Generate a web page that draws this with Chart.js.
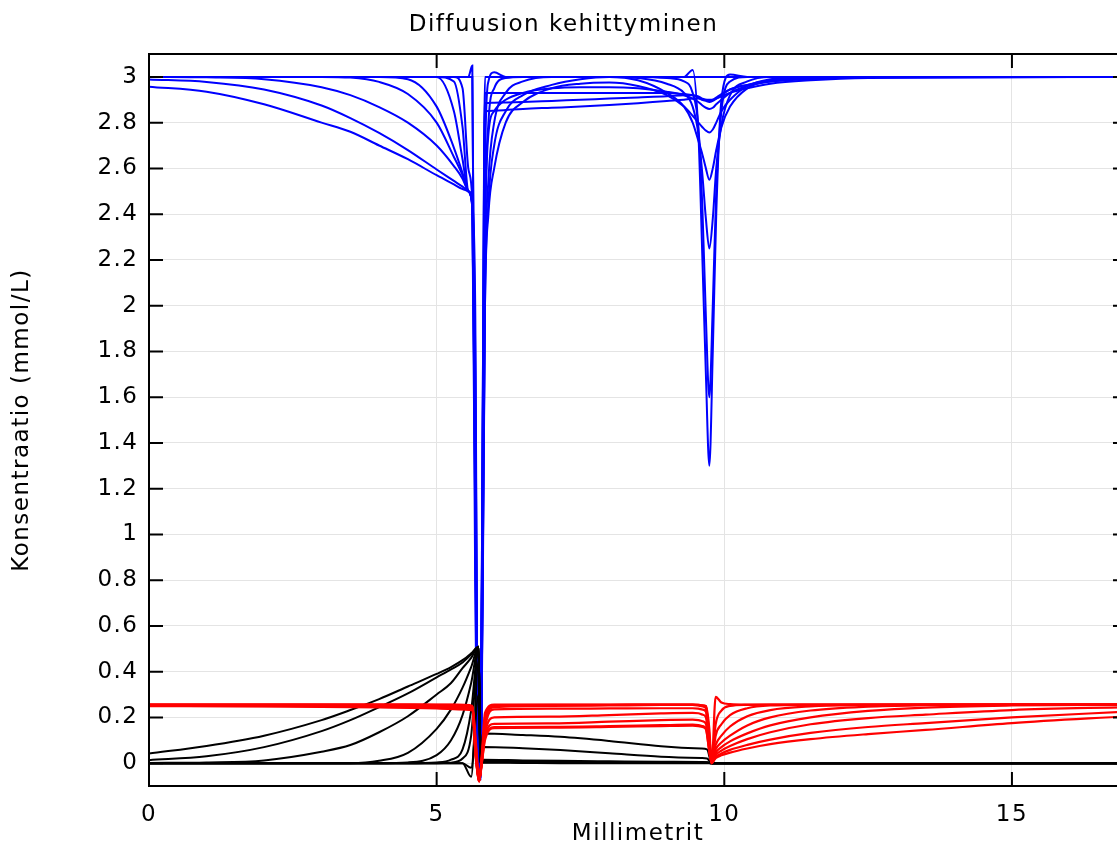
<!DOCTYPE html>
<html>
<head>
<meta charset="utf-8">
<script src="https://cdn.jsdelivr.net/npm/chart.js@4"></script>
<style>
  html, body { margin: 0; padding: 0; overflow: hidden; background: #fff; }
  #wrap { width: 1117px; height: 848px; overflow: hidden; }
</style>
</head>
<body>
<div id="wrap"><canvas id="chart" width="1135" height="848"></canvas></div>
<script>
// axis ticks
var xTicks = [0, 5, 10, 15];
var yTicks = [0, 0.2, 0.4, 0.6, 0.8, 1, 1.2, 1.4, 1.6, 1.8, 2, 2.2, 2.4, 2.6, 2.8, 3];
var yTickLabels = ['0', '0.2', '0.4', '0.6', '0.8', '1', '1.2', '1.4', '1.6', '1.8', '2', '2.2', '2.4', '2.6', '2.8', '3'];

// blue species, left domain + membrane drop
var blueXA = [0, 1, 2, 3, 3.5, 4, 4.5, 5, 5.3, 5.45, 5.55, 5.62, 5.67, 5.72];
var blueA = [
    [3, 3, 3, 3, 3, 3, 3, 3, 3, 3, 3, 3.0, 1.2, -0.05],
    [3, 3, 3, 3, 3, 3, 3, 3, 3, 3, 3.0, 3.05, 1.0, -0.06],
    [3, 3, 3, 3, 3, 3, 3, 3, 3.0, 2.95, 2.6, 2.46, 1.7, -0.05],
    [3, 3, 3, 3, 3, 3, 3, 3, 2.98, 2.78, 2.5, 2.46, 1.4, -0.06],
    [3, 3, 3, 3, 3, 3, 3, 3.0, 2.85, 2.64, 2.5, 2.45, 1.1, -0.06],
    [3, 3, 3, 3, 3, 3.0, 2.99, 2.87, 2.69, 2.58, 2.5, 2.45, 0.8, -0.07],
    [3, 3, 3, 3, 2.997, 2.978, 2.925, 2.80, 2.65, 2.57, 2.5, 2.44, 2.0, -0.06],
    [3.0, 2.998, 2.99, 2.955, 2.92, 2.868, 2.80, 2.70, 2.61, 2.555, 2.5, 2.44, 1.8, -0.05],
    [2.989, 2.978, 2.945, 2.875, 2.82, 2.755, 2.68, 2.595, 2.545, 2.52, 2.5, 2.43, 1.5, -0.06],
    [2.957, 2.935, 2.88, 2.80, 2.76, 2.70, 2.64, 2.57, 2.53, 2.51, 2.5, 2.43, 1.2, -0.07]
];
// blue species, middle + right domain
var blueXB = [5.76, 5.80, 5.84, 5.9, 6.0, 6.2, 6.5, 7.0, 7.5, 8.0, 8.5, 9.0, 9.3, 9.45, 9.55, 9.62, 9.68, 9.74, 9.8, 9.86, 9.95, 10.1, 10.4, 10.8, 11.5, 12.5, 17];
var blueB = [
    [-0.05, 1.5, 3, 3, 3, 3, 3, 3, 3, 3, 3, 3, 3, 3, 3, 3, 3, 3, 3, 3, 3, 3, 3, 3, 3, 3, 3],
    [-0.06, 1.0, 2.6, 2.98, 3.02, 3.0, 3.0, 3.0, 3.0, 3.0, 3.0, 3.0, 3.0, 3.03, 2.75, 2.2, 1.7, 1.3, 1.8, 2.4, 2.9, 3.01, 3.0, 3.0, 3.0, 3.0, 3.0],
    [-0.05, 0.9, 2.3, 2.8, 2.95, 2.995, 3.0, 3.0, 3.0, 3.0, 3.0, 2.995, 2.98, 2.93, 2.78, 2.42, 1.95, 1.6, 2.0, 2.5, 2.85, 2.98, 3.0, 3.0, 3.0, 3.0, 3.0],
    [-0.06, 0.8, 2.1, 2.55, 2.8, 2.93, 2.98, 3.0, 3.0, 3.0, 2.995, 2.97, 2.93, 2.87, 2.75, 2.57, 2.38, 2.25, 2.38, 2.6, 2.79, 2.92, 2.98, 3.0, 3.0, 3.0, 3.0],
    [-0.06, 0.7, 2.0, 2.45, 2.7, 2.85, 2.92, 2.965, 2.99, 3.0, 2.985, 2.93, 2.87, 2.8, 2.72, 2.66, 2.6, 2.55, 2.6, 2.68, 2.78, 2.87, 2.95, 2.985, 3.0, 3.0, 3.0],
    [-0.07, 0.8, 2.0, 2.4, 2.6, 2.8, 2.89, 2.95, 2.97, 2.975, 2.96, 2.92, 2.87, 2.83, 2.8, 2.78, 2.765, 2.757, 2.77, 2.8, 2.85, 2.9, 2.96, 2.99, 3.0, 3.0, 3.0],
    [-0.06, 1.2, 2.3, 2.75, 2.85, 2.9, 2.93, 2.95, 2.955, 2.955, 2.95, 2.935, 2.92, 2.905, 2.89, 2.875, 2.865, 2.86, 2.865, 2.88, 2.9, 2.93, 2.96, 2.98, 2.995, 3.0, 3.0],
    [-0.05, 1.5, 2.93, 2.93, 2.93, 2.93, 2.93, 2.93, 2.93, 2.93, 2.93, 2.93, 2.925, 2.92, 2.91, 2.9, 2.895, 2.89, 2.895, 2.905, 2.92, 2.945, 2.965, 2.985, 2.995, 3.0, 3.0],
    [-0.06, 1.4, 2.886, 2.886, 2.887, 2.888, 2.89, 2.895, 2.9, 2.905, 2.91, 2.915, 2.92, 2.92, 2.915, 2.905, 2.9, 2.895, 2.9, 2.91, 2.925, 2.945, 2.965, 2.98, 2.99, 2.998, 3.0],
    [-0.07, 1.3, 2.85, 2.851, 2.852, 2.855, 2.86, 2.865, 2.87, 2.877, 2.885, 2.895, 2.9, 2.905, 2.905, 2.9, 2.9, 2.9, 2.9, 2.905, 2.915, 2.93, 2.95, 2.97, 2.985, 2.995, 3.0]
];

// red species
var redXA = [0, 2, 4, 5, 5.5, 5.62, 5.68, 5.74, 5.79];
var redA = [
    [0.256, 0.256, 0.256, 0.256, 0.255, 0.25, 0.1, -0.07, 0.05],
    [0.256, 0.256, 0.256, 0.255, 0.254, 0.248, 0.08, -0.08, 0.04],
    [0.255, 0.255, 0.255, 0.254, 0.252, 0.246, 0.06, -0.07, 0.03],
    [0.255, 0.255, 0.254, 0.252, 0.25, 0.244, 0.05, -0.08, 0.03],
    [0.254, 0.254, 0.252, 0.25, 0.247, 0.242, 0.04, -0.07, 0.02],
    [0.254, 0.253, 0.25, 0.247, 0.244, 0.24, 0.04, -0.08, 0.02],
    [0.252, 0.251, 0.248, 0.244, 0.24, 0.236, 0.03, -0.07, 0.02],
    [0.25, 0.249, 0.246, 0.241, 0.237, 0.233, 0.03, -0.08, 0.01],
    [0.249, 0.248, 0.244, 0.239, 0.234, 0.23, 0.02, -0.07, 0.01]
];
var redXB = [5.84, 6.0, 7.0, 8.0, 8.9, 9.45, 9.55, 9.62, 9.68, 9.74, 9.78];
var redB = [
    [0.22, 0.256, 0.256, 0.256, 0.256, 0.256, 0.255, 0.253, 0.25, 0.15, 0.0],
    [0.2, 0.254, 0.255, 0.255, 0.256, 0.256, 0.255, 0.252, 0.248, 0.12, 0.0],
    [0.18, 0.25, 0.253, 0.254, 0.255, 0.255, 0.253, 0.25, 0.245, 0.1, 0.0],
    [0.17, 0.245, 0.25, 0.252, 0.254, 0.254, 0.252, 0.248, 0.24, 0.08, 0.0],
    [0.15, 0.235, 0.238, 0.239, 0.24, 0.24, 0.238, 0.234, 0.225, 0.08, 0.0],
    [0.13, 0.2, 0.203, 0.21, 0.2175, 0.22, 0.218, 0.212, 0.2, 0.07, 0.0],
    [0.12, 0.172, 0.174, 0.181, 0.188, 0.19, 0.188, 0.183, 0.172, 0.06, 0.0],
    [0.11, 0.157, 0.159, 0.162, 0.166, 0.168, 0.166, 0.162, 0.152, 0.05, 0.0],
    [0.1, 0.153, 0.155, 0.158, 0.162, 0.164, 0.162, 0.158, 0.148, 0.05, 0.0]
];
var redXC = [9.85, 9.95, 10.1, 10.4, 10.8, 11.5, 12.5, 13.5, 15, 17];
var redC = [
    [0.29, 0.265, 0.258, 0.256, 0.256, 0.256, 0.256, 0.256, 0.256, 0.256],
    [0.17, 0.23, 0.25, 0.255, 0.256, 0.256, 0.256, 0.256, 0.256, 0.256],
    [0.12, 0.17, 0.21, 0.24, 0.252, 0.255, 0.256, 0.256, 0.256, 0.256],
    [0.08, 0.12, 0.16, 0.205, 0.232, 0.248, 0.254, 0.256, 0.256, 0.256],
    [0.06, 0.09, 0.12, 0.165, 0.2, 0.23, 0.247, 0.253, 0.256, 0.256],
    [0.045, 0.07, 0.095, 0.13, 0.165, 0.2, 0.228, 0.243, 0.252, 0.256],
    [0.035, 0.055, 0.075, 0.105, 0.135, 0.17, 0.197, 0.212, 0.232, 0.245],
    [0.027, 0.042, 0.058, 0.08, 0.103, 0.132, 0.158, 0.175, 0.2, 0.225],
    [0.022, 0.034, 0.046, 0.064, 0.083, 0.105, 0.127, 0.145, 0.175, 0.205]
];

// black species
var blackXA = [0, 1, 2, 3, 3.5, 4, 4.5, 5, 5.25, 5.45, 5.6, 5.73, 5.76];
var blackA = [
    [0, 0, 0, 0, 0, 0, 0, 0, 0, 0, -0.02, 0.3, 0.0],
    [0, 0, 0, 0, 0, 0, 0, 0, 0, 0.0, -0.06, 0.45, 0.0],
    [0, 0, 0, 0, 0, 0, 0, 0, 0.002, 0.02, 0.12, 0.509, 0.0],
    [0, 0, 0, 0, 0, 0, 0, 0.003, 0.015, 0.06, 0.23, 0.509, 0.0],
    [0, 0, 0, 0, 0, 0, 0.003, 0.035, 0.1, 0.21, 0.35, 0.509, 0.0],
    [0, 0, 0, 0, 0, 0.01, 0.045, 0.15, 0.235, 0.33, 0.42, 0.509, 0.0],
    [0.001, 0.003, 0.012, 0.05, 0.079, 0.135, 0.205, 0.3, 0.35, 0.415, 0.46, 0.509, 0.0],
    [0.013, 0.03, 0.07, 0.14, 0.188, 0.245, 0.305, 0.375, 0.41, 0.44, 0.475, 0.509, 0.0],
    [0.042, 0.075, 0.12, 0.188, 0.232, 0.28, 0.335, 0.39, 0.42, 0.45, 0.48, 0.509, 0.0]
];
var blackXB = [5.8, 6.5, 7.15, 8, 8.9, 9.6, 9.7, 9.78, 12.5, 17];
var blackB = [
    [0.002, 0.001, 0, 0, 0, 0, 0, 0, 0, 0],
    [0.004, 0.003, 0.003, 0.002, 0.002, 0.001, 0.001, 0, 0, 0],
    [0.005, 0.004, 0.003, 0.003, 0.002, 0.002, 0.002, 0, 0, 0],
    [0.005, 0.004, 0.003, 0.003, 0.002, 0.002, 0.002, 0, 0, 0],
    [0.006, 0.005, 0.004, 0.003, 0.003, 0.002, 0.002, 0, 0, 0],
    [0.008, 0.007, 0.006, 0.005, 0.004, 0.003, 0.003, 0, 0, 0],
    [0.015, 0.012, 0.01, 0.008, 0.006, 0.005, 0.004, 0, 0, 0],
    [0.071, 0.065, 0.057, 0.043, 0.028, 0.022, 0.02, 0, 0, 0],
    [0.13, 0.123, 0.115, 0.097, 0.074, 0.064, 0.06, 0, 0, 0]
];

var FONT = 'DejaVu Sans';
var FONT_SIZE = 23;
var LETTER_SPACING = '1.5px';

function toPoints(xs, ys) {
    return xs.map(function (x, i) { return { x: x, y: ys[i] }; });
}

function curve(points, color, width, order) {
    return {
        data: points,
        showLine: true,
        borderColor: color,
        backgroundColor: color,
        borderWidth: width,
        pointRadius: 0,
        cubicInterpolationMode: 'monotone',
        fill: false,
        order: order
    };
}

var datasets = [];
redA.forEach(function (ys, i) {
    var xs = redXA.concat(redXB, redXC);
    datasets.push(curve(toPoints(xs, ys.concat(redB[i], redC[i])), '#ff0000', 2.2, 1));
});
blackA.forEach(function (ys, i) {
    var xs = blackXA.concat(blackXB);
    datasets.push(curve(toPoints(xs, ys.concat(blackB[i])), '#000000', 2, 2));
});
blueA.forEach(function (ys, i) {
    var xs = blueXA.concat(blueXB);
    datasets.push(curve(toPoints(xs, ys.concat(blueB[i])), '#0000ff', 2, 3));
});

// the original text is a bit wider than DejaVu at this size
var spacingPlugin = {
    id: 'spacing',
    beforeUpdate: function (chart) { chart.ctx.letterSpacing = LETTER_SPACING; },
    beforeDraw: function (chart) { chart.ctx.letterSpacing = LETTER_SPACING; }
};

// frame around the plot with inward tick marks on all sides
var framePlugin = {
    id: 'frame',
    afterDatasetsDraw: function (chart) {
        var ctx = chart.ctx, a = chart.chartArea, sx = chart.scales.x, sy = chart.scales.y;
        var len = 14;
        ctx.save();
        ctx.strokeStyle = '#000';
        ctx.lineWidth = 2;
        ctx.beginPath();
        xTicks.forEach(function (v) {
            var px = sx.getPixelForValue(v);
            ctx.moveTo(px, a.bottom); ctx.lineTo(px, a.bottom - len);
            ctx.moveTo(px, a.top); ctx.lineTo(px, a.top + len);
        });
        yTicks.forEach(function (v) {
            var py = sy.getPixelForValue(v);
            ctx.moveTo(a.left, py); ctx.lineTo(a.left + len, py);
            ctx.moveTo(a.right, py); ctx.lineTo(a.right - len, py);
        });
        ctx.stroke();
        ctx.strokeRect(a.left, a.top, a.right - a.left, a.bottom - a.top);
        ctx.restore();
    }
};

var ctx = document.getElementById('chart').getContext('2d');
var diffChart = new Chart(ctx, {
    type: 'scatter',
    data: { datasets: datasets },
    options: {
        responsive: false,
        animation: false,
        devicePixelRatio: 1,
        layout: { padding: { left: 0, right: 8, top: 0, bottom: 0 } },
        plugins: {
            legend: { display: false },
            tooltip: { enabled: false },
            title: {
                display: true,
                text: 'Diffuusion kehittyminen',
                color: '#000',
                font: { family: FONT, size: FONT_SIZE, weight: 'normal' },
                padding: { top: 11.2, bottom: 15.2 }
            }
        },
        scales: {
            x: {
                type: 'linear',
                min: 0,
                max: 17,
                afterBuildTicks: function (scale) {
                    scale.ticks = xTicks.map(function (v) { return { value: v }; });
                },
                afterFit: function (scale) { scale.height = 62; },
                ticks: {
                    color: '#000',
                    font: { family: FONT, size: FONT_SIZE },
                    padding: 15,
                    maxRotation: 0,
                    autoSkip: false
                },
                grid: { color: '#e4e4e4', lineWidth: 1, drawTicks: false },
                border: { display: false },
                title: {
                    display: true,
                    text: 'Millimetrit',
                    color: '#000',
                    font: { family: FONT, size: FONT_SIZE },
                    padding: { top: 0, bottom: 0 }
                }
            },
            y: {
                type: 'linear',
                min: -0.1,
                max: 3.1,
                afterBuildTicks: function (scale) {
                    scale.ticks = yTicks.map(function (v) { return { value: v }; });
                },
                afterFit: function (scale) { scale.width = 149; },
                ticks: {
                    color: '#000',
                    font: { family: FONT, size: FONT_SIZE },
                    padding: 10.5,
                    autoSkip: false,
                    callback: function (value, index) { return yTickLabels[index]; }
                },
                grid: { color: '#e4e4e4', lineWidth: 1, drawTicks: false },
                border: { display: false },
                title: {
                    display: true,
                    text: 'Konsentraatio (mmol/L)',
                    color: '#000',
                    font: { family: FONT, size: FONT_SIZE },
                    padding: { top: 8.7, bottom: 0 }
                }
            }
        }
    },
    plugins: [spacingPlugin, framePlugin]
});
</script>
</body>
</html>
